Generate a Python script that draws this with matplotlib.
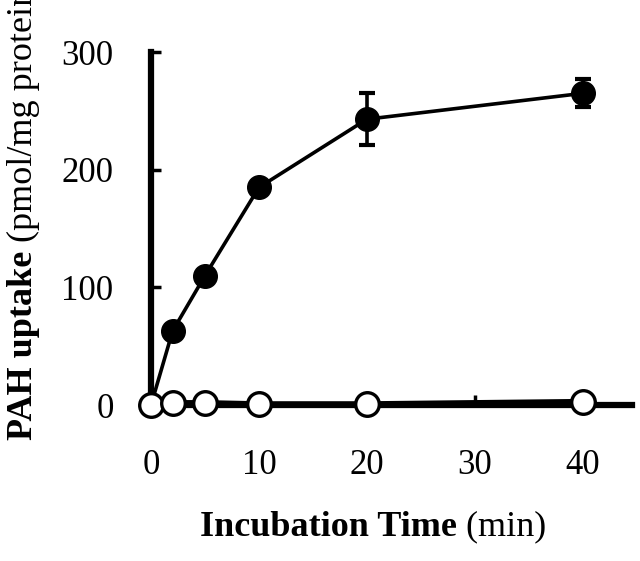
import matplotlib
matplotlib.use("Agg")
import matplotlib.pyplot as plt

# Incubation time (min)
time_min = [0, 2, 5, 10, 20, 40]
# PAH uptake (pmol/mg protein)
uptake_filled = [0, 63, 110, 185, 243, 265]
err_filled = [0, 0, 0, 0, 22, 12]
uptake_open = [0, 2, 2, 1, 1, 3]

yticks = [0, 100, 200, 300]
xticks = [0, 10, 20, 30, 40]

plt.rcParams['font.family'] = ['Liberation Serif', 'DejaVu Serif']

fig = plt.figure(figsize=(6.4, 5.61), dpi=100)
ax = fig.add_axes([0.236, 0.278, 0.752, 0.629])

# filled circles
ax.errorbar(time_min, uptake_filled, yerr=err_filled, color='black', lw=2.6,
            marker='o', ms=17, mfc='black', mec='black', elinewidth=2.6,
            capsize=6, capthick=3, clip_on=False, zorder=3)
# open circles (control), drawn on top
ax.plot(time_min, uptake_open, color='black', lw=3.8, marker='o', ms=17,
        mfc='white', mec='black', mew=2.4, clip_on=False, zorder=4)

ax.set_xlim(0, 44.6)
ax.set_ylim(0, 300)
ax.set_xticks(xticks)
ax.set_yticks(yticks)
ax.tick_params(direction='in', length=7, width=2.5, labelsize=25)
ax.tick_params(axis='x', pad=32)
ax.tick_params(axis='y', pad=27)
for side in ['top', 'right']:
    ax.spines[side].set_visible(False)
for side in ['left', 'bottom']:
    ax.spines[side].set_linewidth(4.5)

# labels: bold part followed by a normal part
t1 = fig.text(0.312, 0.045, 'Incubation Time', fontsize=26, fontweight='bold',
              ha='left', va='baseline')
ax.annotate(' (min)', xy=(1, 0), xycoords=t1, fontsize=26,
            ha='left', va='bottom')
t2 = fig.text(0.036, 0.215, 'PAH uptake', fontsize=26, fontweight='bold',
              rotation=90, ha='center', va='bottom')
ax.annotate(' (pmol/mg protein)', xy=(0.5, 1), xycoords=t2, fontsize=26,
            rotation=90, ha='center', va='bottom')

fig.savefig('out.png', dpi=100)
